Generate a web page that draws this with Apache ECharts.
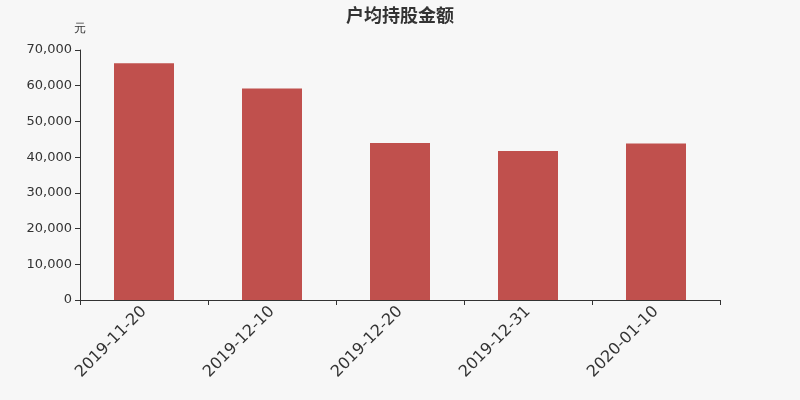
<!DOCTYPE html>
<html><head><meta charset="utf-8">
<script src="https://cdn.jsdelivr.net/npm/echarts@6/dist/echarts.min.js"></script>
<style>html,body{margin:0;padding:0;background:#f7f7f7}#c{width:800px;height:400px}</style>
</head><body><div id="c"></div>
<script>
const categories = ['2019-11-20','2019-12-10','2019-12-20','2019-12-31','2020-01-10'];
const values = [66300, 59250, 43950, 41700, 43850];
const yTicks = [0,10000,20000,30000,40000,50000,60000,70000];
const chart = echarts.init(document.getElementById('c'));
chart.setOption({
  backgroundColor:'#f7f7f7',
  animation:false,
  title:{text:'户均持股金额',left:'center',top:1,textStyle:{fontSize:18,fontWeight:'bold',color:'#333',fontFamily:'Noto Sans CJK SC'}},
  grid:{left:80,right:80,top:50,bottom:100},
  xAxis:{type:'category',data:categories,
    axisLine:{lineStyle:{color:'#333'}},
    axisTick:{show:true,length:5,lineStyle:{color:'#333'}},
    axisLabel:{rotate:45,fontSize:16,color:'#333',margin:9,fontFamily:'DejaVu Sans'}},
  yAxis:{type:'value',name:'元',nameGap:15,nameTextStyle:{color:'#333',fontSize:12,align:'center'},
    min:yTicks[0],max:yTicks[yTicks.length-1],interval:10000,
    axisLine:{show:true,lineStyle:{color:'#333'}},
    axisTick:{show:true,length:5,lineStyle:{color:'#333'}},
    splitLine:{show:false},
    axisLabel:{color:'#333',fontSize:13,margin:8,fontFamily:'DejaVu Sans',formatter:v=>v.toLocaleString('en-US')}},
  series:[{type:'bar',data:values,barWidth:60,itemStyle:{color:'#c0504d'}}]
});
</script></body></html>
